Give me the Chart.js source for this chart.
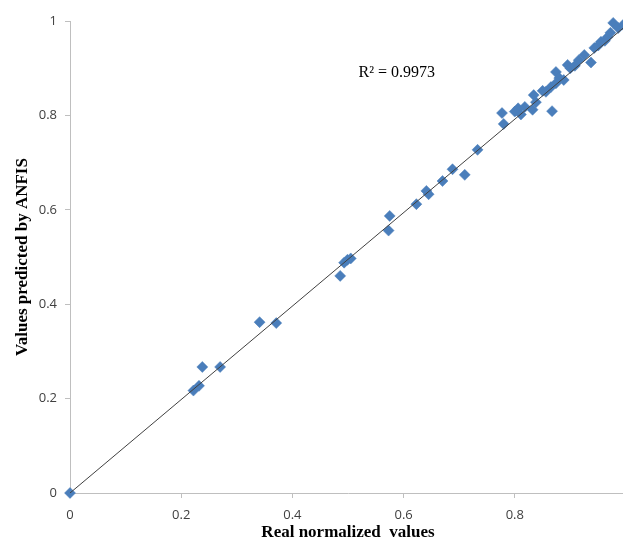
<!DOCTYPE html>
<html>
<head>
<meta charset="utf-8">
<script src="https://cdn.jsdelivr.net/npm/chart.js@4.4.0/dist/chart.umd.min.js"></script>
<style>
  html, body { margin: 0; padding: 0; background: #fff; overflow: hidden; }
  #wrap { width: 660px; height: 543px; }
</style>
</head>
<body>
<div id="wrap"><canvas id="myChart" width="660" height="543"></canvas></div>
<script>
// real normalized values (x) vs values predicted by ANFIS (y)
const realValues = [
  0, 0.222, 0.232, 0.238, 0.270, 0.341, 0.371, 0.486, 0.493, 0.499, 0.505,
  0.573, 0.575, 0.623, 0.641, 0.645, 0.670, 0.688, 0.710, 0.733,
  0.777, 0.780, 0.800, 0.806, 0.811, 0.818, 0.832, 0.834, 0.838, 0.850,
  0.856, 0.865, 0.867, 0.874, 0.874, 0.880, 0.888, 0.895, 0.900, 0.908,
  0.915, 0.925, 0.937, 0.943, 0.950, 0.955, 0.962, 0.967, 0.972, 0.977,
  0.986, 0.995
];
const predictedValues = [
  0, 0.217, 0.227, 0.267, 0.267, 0.362, 0.360, 0.460, 0.488, 0.494, 0.497,
  0.556, 0.587, 0.612, 0.640, 0.633, 0.661, 0.686, 0.674, 0.727,
  0.805, 0.782, 0.808, 0.815, 0.802, 0.818, 0.812, 0.843, 0.828, 0.852,
  0.850, 0.860, 0.809, 0.868, 0.892, 0.879, 0.875, 0.907, 0.900, 0.905,
  0.917, 0.928, 0.912, 0.943, 0.948, 0.956, 0.958, 0.966, 0.975, 0.996,
  0.985, 0.992
];

// linear trend line ends
const trendX = [0, 1];
const trendY = [0, 0.99];

const r2Label = 'R² = 0.9973';
const r2Pos = { x: 0.519, y: 0.89 };

const axisColor = '#bfbfbf';
const tickFont = { family: "'Open Sans', 'Noto Sans', sans-serif", size: 13 };
const titleFont = { family: "'Liberation Serif', 'Times New Roman', serif", size: 17, weight: 'bold' };

// excel style tick text: 0, 0.2 ... 1
const fmtTick = (value) => String(Number(value.toFixed(1)));

const r2Plugin = {
  id: 'r2Label',
  afterDatasetsDraw(chart) {
    const { ctx, scales } = chart;
    ctx.save();
    ctx.font = "16px 'Liberation Serif', 'Times New Roman', serif";
    ctx.fillStyle = '#000';
    ctx.textAlign = 'left';
    ctx.textBaseline = 'middle';
    ctx.fillText(r2Label, scales.x.getPixelForValue(r2Pos.x), scales.y.getPixelForValue(r2Pos.y));
    ctx.restore();
  }
};

const ctx = document.getElementById('myChart');

new Chart(ctx, {
  type: 'scatter',
  data: {
    datasets: [
      {
        data: trendX.map((x, i) => ({ x, y: trendY[i] })),
        showLine: true,
        borderColor: '#404040',
        borderWidth: 1,
        pointRadius: 0,
      },
      {
        data: realValues.map((x, i) => ({ x, y: predictedValues[i] })),
        pointStyle: 'rectRot',
        pointRadius: 5.5,
        backgroundColor: '#4a7ebb',
        borderColor: '#4a7ebb',
        borderWidth: 0.5,
        clip: false,
      }
    ]
  },
  options: {
    responsive: false,
    animation: false,
    layout: { padding: { left: 0, top: 21, right: 34, bottom: 0 } },
    plugins: {
      legend: { display: false },
      tooltip: { enabled: false }
    },
    scales: {
      x: {
        type: 'linear',
        min: 0,
        max: 1,
        afterFit: (scale) => { scale.height = 50; },
        ticks: { stepSize: 0.2, color: '#404040', font: tickFont, padding: 9, maxRotation: 0, callback: fmtTick },
        grid: { drawOnChartArea: false, drawTicks: true, tickLength: 5, color: axisColor },
        border: { color: axisColor, width: 1 },
        title: { display: true, text: 'Real normalized  values', color: '#000', font: titleFont, padding: { top: 0, bottom: 0 } }
      },
      y: {
        type: 'linear',
        min: 0,
        max: 1,
        afterFit: (scale) => { scale.width = 70; },
        ticks: { stepSize: 0.2, color: '#404040', font: tickFont, padding: 8, callback: fmtTick },
        grid: { drawOnChartArea: false, drawTicks: true, tickLength: 5, color: axisColor },
        border: { color: axisColor, width: 1 },
        title: { display: true, text: 'Values predicted by ANFIS', color: '#000', font: titleFont, padding: { top: 12, bottom: 0 } }
      }
    }
  },
  plugins: [r2Plugin]
});
</script>
</body>
</html>
